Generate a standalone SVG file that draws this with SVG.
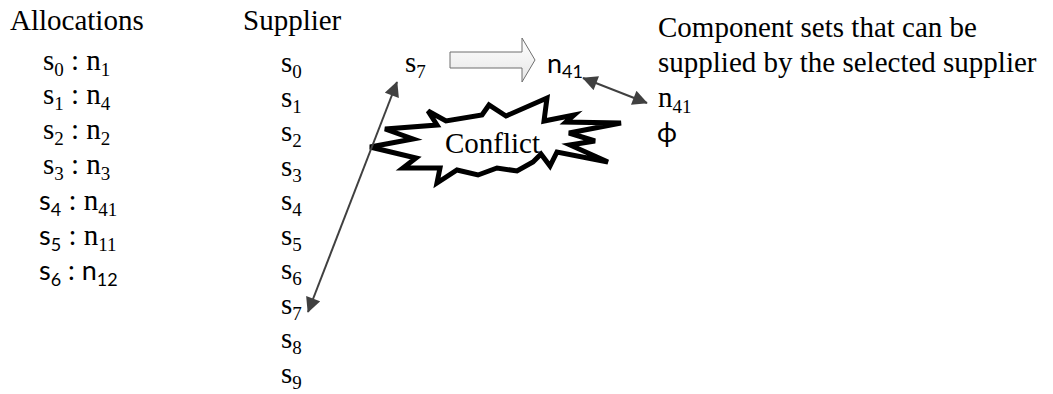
<svg xmlns="http://www.w3.org/2000/svg" width="1053" height="394" viewBox="0 0 1053 394">
  <style>
    .serif { font-family: "Liberation Serif", "Times New Roman", serif; font-size: 29px; fill: #000; }
    .sans { font-family: Lato, "Open Sans", sans-serif; font-size: 27px; fill: #000; }
    .sub { font-size: 19px; }
    .sans .sub, .sub.sans { font-size: 18px; }
    .conn { stroke: #404040; stroke-width: 2; fill: none; }
  </style>
  <defs>
    <marker id="head" viewBox="0 0 10 10" refX="9.5" refY="5" markerWidth="17" markerHeight="15" markerUnits="userSpaceOnUse" orient="auto-start-reverse">
      <path d="M0,0 L10,5 L0,10 Z" fill="#404040"/>
    </marker>
    <linearGradient id="blockFill" x1="0" y1="0" x2="0" y2="1">
      <stop offset="0" stop-color="#ffffff"/>
      <stop offset="1" stop-color="#e6e6e6"/>
    </linearGradient>
  </defs>

  <rect width="1053" height="394" fill="#ffffff"/>

  <!-- allocation list -->
  <g id="allocations">
    <text class="serif" x="10" y="30">Allocations</text>
    <text class="serif" x="43" y="70">s<tspan class="sub" dy="6">0</tspan><tspan dy="-6"> : n</tspan><tspan class="sub" dy="6">1</tspan></text>
    <text class="serif" x="43" y="104">s<tspan class="sub" dy="6">1</tspan><tspan dy="-6"> : n</tspan><tspan class="sub" dy="6">4</tspan></text>
    <text class="serif" x="43" y="139">s<tspan class="sub" dy="6">2</tspan><tspan dy="-6"> : n</tspan><tspan class="sub" dy="6">2</tspan></text>
    <text class="serif" x="43" y="174">s<tspan class="sub" dy="6">3</tspan><tspan dy="-6"> : n</tspan><tspan class="sub" dy="6">3</tspan></text>
    <text class="serif" x="39" y="210"><tspan class="sans">s</tspan><tspan class="sans sub" dy="6">4</tspan><tspan dy="-6"> : n</tspan><tspan class="sub" dy="6">41</tspan></text>
    <text class="serif" x="39" y="245"><tspan class="sans">s</tspan><tspan class="sans sub" dy="6">5</tspan><tspan dy="-6"> : n</tspan><tspan class="sub" dy="6">11</tspan></text>
    <text class="sans" x="39" y="280">s<tspan class="sub" dy="6">6</tspan><tspan dy="-6"> : n</tspan><tspan class="sub" dy="6">12</tspan></text>
  </g>

  <!-- supplier column -->
  <g id="suppliers">
    <text class="serif" x="243" y="30">Supplier</text>
    <text class="serif" x="281" y="72">s<tspan class="sub" dy="6">0</tspan></text>
    <text class="serif" x="281" y="106.5">s<tspan class="sub" dy="6">1</tspan></text>
    <text class="serif" x="281" y="141">s<tspan class="sub" dy="6">2</tspan></text>
    <text class="serif" x="281" y="175.5">s<tspan class="sub" dy="6">3</tspan></text>
    <text class="serif" x="281" y="210">s<tspan class="sub" dy="6">4</tspan></text>
    <text class="serif" x="281" y="244.5">s<tspan class="sub" dy="6">5</tspan></text>
    <text class="serif" x="281" y="279">s<tspan class="sub" dy="6">6</tspan></text>
    <text class="serif" x="281" y="313.5">s<tspan class="sub" dy="6">7</tspan></text>
    <text class="serif" x="281" y="348">s<tspan class="sub" dy="6">8</tspan></text>
    <text class="serif" x="281" y="382.5">s<tspan class="sub" dy="6">9</tspan></text>
  </g>

  <!-- selected supplier -->
  <g id="selected">
    <text class="serif" x="405" y="72">s<tspan class="sub" dy="6">7</tspan></text>
  </g>

  <!-- block arrow -->
  <g id="block-arrow">
    <path d="M450,52 L522,52 L522,38 L535,60 L522,82 L522,68 L450,68 Z" fill="url(#blockFill)" stroke="#6f6f6f" stroke-width="1"/>
  </g>

  <!-- component set of the selected supplier -->
  <g id="result">
    <text class="sans" x="547" y="73">n<tspan class="sub" dy="5">41</tspan></text>
  </g>

  <!-- conflict burst -->
  <g id="conflict">
    <path d="M370,147 L413,139 L385,129 L437,125 L428,111 L446,121 L482,115 L489,105 L506,116 L547,98 L544,121 L574,115 L566,122 L621,123 L569,133 L595,141 L570,145 L608,162 L557,152 L550,166 L541,154 L533,162 L517,171 L497,168 L478,175 L457,170 L437,183 L440,168 L403,168 L416,158 Z" fill="#ffffff" stroke="#000000" stroke-width="5" stroke-linejoin="miter" stroke-miterlimit="4"/>
    <text class="serif" x="445" y="153">Conflict</text>
  </g>

  <!-- component sets list -->
  <g id="component-sets">
    <text class="serif" x="658" y="37">Component sets that can be</text>
    <text class="serif" x="658" y="72">supplied by the selected supplier</text>
    <text class="serif" x="658" y="107">n<tspan class="sub" dy="6">41</tspan></text>
    <text class="sans" x="657" y="142">ϕ</text>
  </g>

  <!-- connectors -->
  <g id="connectors">
    <line class="conn" x1="308" y1="312" x2="397" y2="82" marker-start="url(#head)" marker-end="url(#head)"/>
    <line class="conn" x1="583" y1="78" x2="647" y2="103" marker-start="url(#head)" marker-end="url(#head)"/>
  </g>
</svg>
